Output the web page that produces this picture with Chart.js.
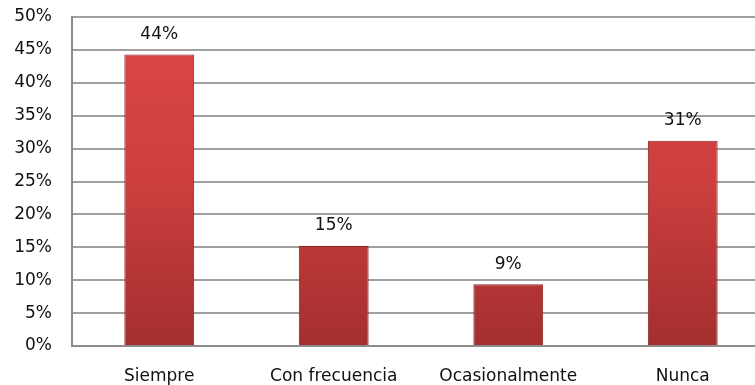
<!DOCTYPE html>
<html>
<head>
<meta charset="utf-8">
<script src="https://cdn.jsdelivr.net/npm/chart.js@4/dist/chart.umd.min.js"></script>
<style>
  html, body { margin: 0; padding: 0; background: #fff; overflow: hidden; }
  #wrap { position: relative; width: 770px; height: 385px; }
</style>
</head>
<body>
<div id="wrap"><canvas id="c"></canvas></div>
<script>
const categories = ['Siempre', 'Con frecuencia', 'Ocasionalmente', 'Nunca'];
const values = [44.3, 15.2, 9.4, 31.2];
const valueLabels = ['44%', '15%', '9%', '31%'];
const yTicks = [0, 5, 10, 15, 20, 25, 30, 35, 40, 45, 50];

const FONT = "'DejaVu Sans', sans-serif";

const barLabels = {
  id: 'barLabels',
  afterDatasetsDraw(chart) {
    const ctx = chart.ctx;
    const meta = chart.getDatasetMeta(0);
    ctx.save();
    ctx.font = '17px ' + FONT;
    ctx.fillStyle = '#111';
    ctx.textAlign = 'center';
    ctx.textBaseline = 'middle';
    meta.data.forEach((bar, i) => {
      ctx.fillText(valueLabels[i], bar.x, bar.y - 20);
    });
    ctx.restore();
  }
};

function barFill(context) {
  const chart = context.chart;
  const area = chart.chartArea;
  if (!area) return '#c83c3a';
  const g = chart.ctx.createLinearGradient(0, area.top, 0, area.bottom);
  g.addColorStop(0, '#dc4746');
  g.addColorStop(0.5, '#cc3f3e');
  g.addColorStop(1, '#a32f2e');
  return g;
}

new Chart(document.getElementById('c'), {
  type: 'bar',
  data: {
    labels: categories,
    datasets: [{
      data: values,
      backgroundColor: barFill,
      borderColor: '#8a2424',
      borderWidth: 1,
      barPercentage: 0.4,
      categoryPercentage: 1.0
    }]
  },
  options: {
    responsive: true,
    maintainAspectRatio: false,
    animation: false,
    layout: { padding: { top: 17, right: 0, left: 0, bottom: 0 } },
    plugins: { legend: { display: false }, tooltip: { enabled: false } },
    scales: {
      x: {
        grid: { display: false, drawTicks: false },
        border: { display: true, color: '#8c8c8c', width: 2 },
        ticks: { color: '#111', font: { family: FONT, size: 17 }, padding: 20, maxRotation: 0 },
        afterFit(scale) { scale.height = 39; scale.paddingLeft = 0; scale.paddingRight = 0; }
      },
      y: {
        min: 0, max: 50,
        afterBuildTicks(scale) { scale.ticks = yTicks.map(v => ({ value: v })); },
        grid: { color: '#a0a0a0', lineWidth: 2, drawTicks: false },
        border: { display: true, color: '#8c8c8c', width: 2 },
        ticks: { color: '#111', font: { family: FONT, size: 17 }, padding: 20,
                 callback: v => v + '%' },
        afterFit(scale) { scale.width = 72; scale.paddingTop = 0; scale.paddingBottom = 0; }
      }
    }
  },
  plugins: [barLabels]
});
</script>
</body>
</html>
